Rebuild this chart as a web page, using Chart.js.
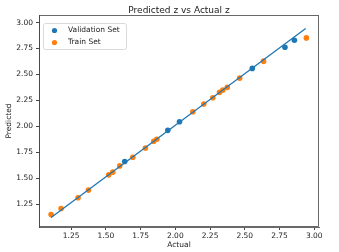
<!DOCTYPE html>
<html>
<head>
<meta charset="utf-8">
<script src="https://cdn.jsdelivr.net/npm/chart.js@4/dist/chart.umd.min.js"></script>
<style>
    html, body { margin: 0; padding: 0; background: #fff; }
    #grafico { display: block; }
</style>
</head>
<body>
<canvas id="grafico" width="339" height="252"></canvas>
<script>
const validacaoX = [1.636, 1.946, 2.030, 2.554, 2.789, 2.857];
const validacaoY = [1.660, 1.961, 2.044, 2.558, 2.762, 2.830];

const treinoX = [1.106, 1.178, 1.300, 1.375, 1.521, 1.550, 1.600, 1.694, 1.785, 1.845, 1.867,
                 2.126, 2.205, 2.270, 2.318, 2.342, 2.374, 2.463, 2.635, 2.943];
const treinoY = [1.150, 1.208, 1.311, 1.385, 1.532, 1.558, 1.618, 1.702, 1.791, 1.856, 1.875,
                 2.140, 2.214, 2.275, 2.327, 2.349, 2.375, 2.464, 2.628, 2.852];

const linhaX = [1.106, 2.938];
const linhaY = [1.121, 2.942];

const ticksX = [1.25, 1.50, 1.75, 2.00, 2.25, 2.50, 2.75, 3.00];
const ticksY = [1.25, 1.50, 1.75, 2.00, 2.25, 2.50, 2.75, 3.00];

const titulo = 'Predicted z vs Actual z';
const tituloX = 'Actual';
const tituloY = 'Predicted';
const nomesSeries = ['Validation Set', 'Train Set'];

const azul = '#1f77b4';
const laranja = '#ff7f0e';
const fonte = 'DejaVu Sans';

function pares(xs, ys) {
    return xs.map((x, i) => ({ x: x, y: ys[i] }));
}

// titulo, moldura, rotulos dos eixos e legenda dentro do grafico
const extras = {
    id: 'extras',
    afterDraw(chart) {
        const ctx = chart.ctx;
        const a = chart.chartArea;
        ctx.save();

        ctx.strokeStyle = '#444';
        ctx.lineWidth = 0.8;
        ctx.strokeRect(a.left + 0.5, a.top + 0.5, a.right - a.left - 1, a.bottom - a.top - 1);

        ctx.fillStyle = '#222';
        ctx.textAlign = 'center';
        ctx.textBaseline = 'middle';
        ctx.font = `9px "${fonte}"`;
        ctx.fillText(titulo, (a.left + a.right) / 2, 10.5);

        ctx.font = `7.5px "${fonte}"`;
        ctx.fillText(tituloX, (a.left + a.right) / 2, 245);

        ctx.save();
        ctx.translate(9, (a.top + a.bottom) / 2);
        ctx.rotate(-Math.PI / 2);
        ctx.fillText(tituloY, 0, 0);
        ctx.restore();

        // legenda
        const lx = a.left + 4, ly = a.top + 8, lw = 83, lh = 26;
        ctx.fillStyle = 'rgba(255,255,255,0.8)';
        ctx.strokeStyle = '#d0d0d0';
        ctx.lineWidth = 0.8;
        ctx.beginPath();
        ctx.roundRect(lx + 0.5, ly + 0.5, lw, lh, 2);
        ctx.fill();
        ctx.stroke();

        const coresLegenda = [azul, laranja];
        nomesSeries.forEach((nome, i) => {
            const y = ly + 7.5 + i * 12;
            ctx.fillStyle = coresLegenda[i];
            ctx.beginPath();
            ctx.arc(lx + 11.5, y, 2.6, 0, Math.PI * 2);
            ctx.fill();
            ctx.fillStyle = '#222';
            ctx.textAlign = 'left';
            ctx.fillText(nome, lx + 25, y);
        });

        ctx.restore();
    }
};

const ctx = document.getElementById('grafico').getContext('2d');

const grafico = new Chart(ctx, {
    type: 'scatter',
    data: {
        datasets: [
            {
                label: 'linha',
                data: pares(linhaX, linhaY),
                showLine: true,
                borderColor: azul,
                borderWidth: 1.3,
                pointRadius: 0,
                fill: false
            },
            {
                label: nomesSeries[1],
                data: pares(treinoX, treinoY),
                backgroundColor: laranja,
                borderWidth: 0,
                pointRadius: 2.8
            },
            {
                label: nomesSeries[0],
                data: pares(validacaoX, validacaoY),
                backgroundColor: azul,
                borderWidth: 0,
                pointRadius: 2.8
            }
        ]
    },
    options: {
        responsive: false,
        animation: false,
        layout: {
            padding: { top: 15, right: 20, left: 0, bottom: 0 }
        },
        plugins: {
            legend: { display: false },
            title: { display: false },
            tooltip: { enabled: false }
        },
        scales: {
            x: {
                type: 'linear',
                min: 1.019,
                max: 3.034,
                afterBuildTicks: (eixo) => { eixo.ticks = ticksX.map(v => ({ value: v })); },
                afterFit: (eixo) => { eixo.height = 25; },
                grid: { drawOnChartArea: false, drawTicks: true, tickLength: 3, color: '#444' },
                border: { display: true, color: '#444', width: 0.8 },
                ticks: {
                    padding: 2,
                    color: '#222',
                    font: { family: fonte, size: 7.5 },
                    maxRotation: 0,
                    callback: (v) => Number(v).toFixed(2)
                }
            },
            y: {
                type: 'linear',
                min: 1.029,
                max: 3.073,
                afterBuildTicks: (eixo) => { eixo.ticks = ticksY.map(v => ({ value: v })); },
                afterFit: (eixo) => { eixo.width = 39; },
                grid: { drawOnChartArea: false, drawTicks: true, tickLength: 3, color: '#444' },
                border: { display: true, color: '#444', width: 0.8 },
                ticks: {
                    padding: 3,
                    color: '#222',
                    font: { family: fonte, size: 7.5 },
                    callback: (v) => Number(v).toFixed(2)
                }
            }
        }
    },
    plugins: [extras]
});
</script>
</body>
</html>
